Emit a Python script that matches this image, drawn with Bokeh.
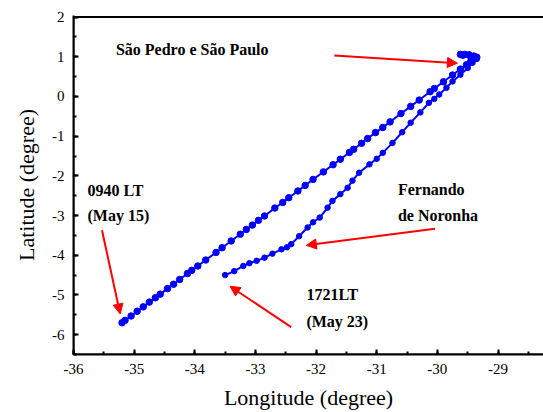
from bokeh.plotting import figure
from bokeh.models import (Range1d, SingleIntervalTicker, Label, Arrow, NormalHead,
                          CustomJSTickFormatter)
from bokeh.embed import file_html
from bokeh.resources import INLINE

# Outbound track (May 15 ->) : longitude / latitude
out_lon = [-35.20, -35.15, -35.05, -34.95, -34.85, -34.75, -34.65, -34.57, -34.45, -34.35,
           -34.25, -34.12, -34.05, -33.95, -33.82, -33.65, -33.55, -33.40, -33.25, -33.15,
           -33.05, -32.95, -32.85, -32.68, -32.55, -32.45, -32.30, -32.18, -32.05, -31.88,
           -31.72, -31.60, -31.45, -31.38, -31.25, -31.15, -31.02, -30.90, -30.78, -30.60,
           -30.44, -30.30, -30.12, -30.05, -29.90, -29.75, -29.62, -29.52, -29.45, -29.38,
           -29.35, -29.40, -29.48, -29.55, -29.62, -29.58, -29.45, -29.36]
out_lat = [-5.70, -5.64, -5.53, -5.41, -5.30, -5.18, -5.07, -4.98, -4.84, -4.73,
           -4.61, -4.46, -4.38, -4.27, -4.12, -3.93, -3.81, -3.64, -3.47, -3.35,
           -3.24, -3.12, -3.01, -2.81, -2.67, -2.55, -2.38, -2.24, -2.09, -1.90,
           -1.72, -1.58, -1.41, -1.33, -1.18, -1.06, -0.91, -0.78, -0.64, -0.43,
           -0.25, -0.09, 0.12, 0.20, 0.37, 0.54, 0.69, 0.80, 0.88, 0.96,
           0.99, 1.02, 1.05, 1.06, 1.06, 1.04, 1.00, 0.96]

# Return track (-> May 23)
ret_lon = [-29.35, -29.42, -29.50, -29.62, -29.75, -29.85, -29.97, -30.05, -30.14, -30.28,
           -30.44, -30.58, -30.74, -30.90, -31.00, -31.12, -31.29, -31.40, -31.48, -31.60,
           -31.73, -31.81, -31.94, -32.05, -32.14, -32.28, -32.41, -32.48, -32.57, -32.72,
           -32.85, -32.98, -33.10, -33.20, -33.35, -33.50]
ret_lat = [0.95, 0.85, 0.72, 0.55, 0.38, 0.22, 0.05, -0.06, -0.16, -0.40,
           -0.66, -0.90, -1.17, -1.42, -1.57, -1.71, -1.92, -2.12, -2.30, -2.46,
           -2.63, -2.80, -3.05, -3.17, -3.30, -3.52, -3.72, -3.80, -3.85, -3.96,
           -4.06, -4.14, -4.20, -4.27, -4.40, -4.50]

# Annotations: text lines and anchors (lon, lat)
labels = ["São Pedro e São Paulo", "0940 LT", "(May 15)", "Fernando", "de Noronha", "1721LT", "(May 23)"]
label_lon = [-35.30, -35.77, -35.77, -30.65, -30.65, -32.16, -32.16]
label_lat = [1.18, -2.38, -3.00, -2.34, -2.99, -5.00, -5.66]

# Arrows: start and end (lon, lat)
arr_x0 = [-31.70, -35.53, -30.04, -32.41]
arr_y0 = [1.035, -3.37, -3.33, -5.81]
arr_x1 = [-29.67, -35.23, -32.16, -33.42]
arr_y1 = [0.84, -5.48, -3.75, -4.78]

SERIF = "Liberation Serif"

p = figure(width=543, height=412, output_backend="svg", toolbar_location=None,
           x_range=Range1d(-36, -28.25), y_range=Range1d(-6.5, 2.04),
           min_border_left=73, min_border_right=0, min_border_top=15, min_border_bottom=56)
p.outline_line_color = None
p.grid.visible = False
p.background_fill_color = "white"
p.border_fill_color = "white"

fmt = CustomJSTickFormatter(code="return tick.toFixed(0);")
for ax in (p.xaxis[0], p.yaxis[0]):
    ax.ticker = SingleIntervalTicker(interval=1, num_minor_ticks=2)
    ax.formatter = fmt
    ax.axis_line_width = 2
    ax.axis_line_color = "black"
    ax.major_tick_in = 5
    ax.major_tick_out = 0
    ax.minor_tick_in = 3
    ax.minor_tick_out = 0
    ax.major_tick_line_width = 2
    ax.minor_tick_line_width = 2
    ax.major_label_text_font = SERIF
    ax.major_label_text_font_size = "15px"
    ax.major_label_text_color = "black"
    ax.axis_label_text_font = SERIF
    ax.axis_label_text_font_style = "normal"
    ax.axis_label_text_font_size = "22px"
    ax.axis_label_text_color = "black"

p.xaxis.axis_label = "Longitude (degree)"
p.yaxis.axis_label = "Latitude (degree)"
p.xaxis.major_label_standoff = 9
p.yaxis.major_label_standoff = 9
p.xaxis.axis_label_standoff = 8
p.yaxis.axis_label_standoff = 10

# upper frame edge: box from the axis limits, right side pushed out of view
p.quad(left=[-36.0], right=[-28.0], bottom=[-6.5], top=[2.0],
       fill_color=None, line_color="black", line_width=2)

p.line(out_lon, out_lat, line_color="blue", line_width=2)
p.line(ret_lon, ret_lat, line_color="blue", line_width=2)
p.scatter(out_lon, out_lat, size=6.5, color="blue")
p.scatter(ret_lon, ret_lat, size=5.5, color="blue")

for x0, y0, x1, y1 in zip(arr_x0, arr_y0, arr_x1, arr_y1):
    p.add_layout(Arrow(end=NormalHead(size=10, fill_color="red", line_color="red"),
                       x_start=x0, y_start=y0, x_end=x1, y_end=y1,
                       line_color="red", line_width=2))

for t, x, y in zip(labels, label_lon, label_lat):
    p.add_layout(Label(x=x, y=y, text=t, text_font=SERIF, text_font_style="bold",
                       text_font_size="16px", text_color="black",
                       text_baseline="alphabetic", text_align="left"))

open("out.html", "w").write(file_html(p, INLINE))
